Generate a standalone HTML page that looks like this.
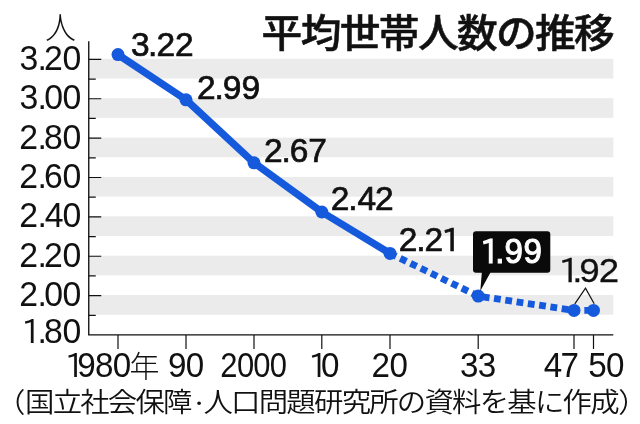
<!DOCTYPE html>
<html lang="ja"><head><meta charset="utf-8"><title>平均世帯人数の推移</title>
<style>
html,body{margin:0;padding:0;background:#fff}
body{width:640px;height:424px;overflow:hidden}
svg{display:block;will-change:transform}
text{font-family:"Liberation Sans","Noto Sans CJK JP",sans-serif;fill:#111}
.jp{font-family:"Noto Sans CJK JP","Liberation Sans",sans-serif}
.n{font-size:34.31px}
.x{font-size:34.40px}
.m{font-size:34px;stroke:#111;stroke-width:.25px}
.d{font-size:33.50px;stroke:#111;stroke-width:.7px}
.c{font-size:34.20px;fill:#fff;stroke:#fff;stroke-width:1.1px}
.o{font-family:"IPAPGothic","IPAGothic","NanumGothic","Liberation Sans",sans-serif}
.n .o{font-size:31.95px} .x .o{font-size:32.03px} .m .o{font-size:31.65px} .d .o{font-size:31.19px} .c .o{font-size:31.84px}
</style></head><body>
<svg width="640" height="424" viewBox="0 0 640 424">
<rect width="640" height="424" fill="#fff"/>
<rect x="88.75" y="58.85" width="524.55" height="19.68" fill="#ebebeb"/>
<rect x="88.75" y="98.22" width="524.55" height="19.68" fill="#ebebeb"/>
<rect x="88.75" y="137.58" width="524.55" height="19.68" fill="#ebebeb"/>
<rect x="88.75" y="176.95" width="524.55" height="19.68" fill="#ebebeb"/>
<rect x="88.75" y="216.31" width="524.55" height="19.68" fill="#ebebeb"/>
<rect x="88.75" y="255.68" width="524.55" height="19.68" fill="#ebebeb"/>
<rect x="88.75" y="295.05" width="524.55" height="19.68" fill="#ebebeb"/>
<path d="M88.75 41.2V334.9H613.3" fill="none" stroke="#111" stroke-width="1.35"/>
<path d="M88.75 59.40h12.5M88.75 79.08h7M88.75 98.77h12.5M88.75 118.45h7M88.75 138.13h12.5M88.75 157.82h7M88.75 177.50h12.5M88.75 197.18h7M88.75 216.86h12.5M88.75 236.55h7M88.75 256.23h12.5M88.75 275.91h7M88.75 295.60h12.5M88.75 315.28h7M118.0 334.9v14M186.0 334.9v14M254.0 334.9v14M321.8 334.9v14M390.0 334.9v14M478.2 334.9v14M574.0 334.9v14M593.5 334.9v14" fill="none" stroke="#111" stroke-width="1.2"/>
<text class="n" transform="scale(0.985 1)" x="19.9 38.0 44.6 63.4" y="70.0">3.20</text>
<text class="n" transform="scale(0.985 1)" x="19.9 38.0 45.0 63.4" y="109.4">3.00</text>
<text class="n" transform="scale(0.985 1)" x="19.5 38.0 44.8 63.4" y="148.7">2.80</text>
<text class="n" transform="scale(0.985 1)" x="19.5 38.0 44.6 63.4" y="188.1">2.60</text>
<text class="n" transform="scale(0.985 1)" x="19.5 38.0 45.5 63.4" y="227.5">2.40</text>
<text class="n" transform="scale(0.985 1)" x="19.5 38.0 44.6 63.4" y="266.8">2.20</text>
<text class="n" transform="scale(0.985 1)" x="19.5 38.0 45.0 63.4" y="306.2">2.00</text>
<text class="n" transform="scale(0.985 1)" x="21.9 38.0 44.8 63.4" y="342.9"><tspan class="o">1</tspan>.80</text>
<text class="jp" x="60.6" y="38.6" font-size="31" font-weight="300" text-anchor="middle">人</text>
<text class="x" transform="scale(0.965 1)" x="67.4 80.1 98.5 116.9" y="377.4"><tspan class="o">1</tspan>980</text>
<text class="jp" x="129.5" y="377.3" font-size="30" font-weight="300">年</text>
<text class="x" transform="scale(0.965 1)" x="174.1 192.4" y="377.4">90</text>
<text class="x" transform="scale(0.9 1)" x="244.8 263.4 281.5 299.7" y="377.4">2000</text>
<text class="x" transform="scale(0.965 1)" x="319.7 332.7" y="377.4"><tspan class="o">1</tspan>0</text>
<text class="x" transform="scale(0.965 1)" x="385.1 403.6" y="377.4">20</text>
<text class="x" transform="scale(0.965 1)" x="476.8 495.1" y="377.4">33</text>
<text class="x" transform="scale(0.965 1)" x="563.6 580.8" y="377.4">47</text>
<text class="x" transform="scale(0.965 1)" x="609.6 627.9" y="377.4">50</text>
<polyline points="118.0,54.6 186.0,99.8 254.0,162.8 321.8,212.0 390.0,253.4" fill="none" stroke="#1559dc" stroke-width="7.3" stroke-linejoin="round"/>
<polyline points="390.0,253.4 478.2,296.1 574.0,310.4 593.5,310.4" fill="none" stroke="#1559dc" stroke-width="6.8" stroke-dasharray="6.8 4.6"/>
<circle cx="118.0" cy="54.6" r="6.5" fill="#1559dc"/>
<circle cx="186.0" cy="99.8" r="6.5" fill="#1559dc"/>
<circle cx="254.0" cy="162.8" r="6.5" fill="#1559dc"/>
<circle cx="321.8" cy="212.0" r="6.5" fill="#1559dc"/>
<circle cx="390.0" cy="253.4" r="6.5" fill="#1559dc"/>
<circle cx="478.2" cy="296.1" r="6.5" fill="#1559dc"/>
<circle cx="574.0" cy="310.4" r="6.5" fill="#1559dc"/>
<circle cx="593.5" cy="310.4" r="6.5" fill="#1559dc"/>
<text class="d" transform="scale(1.0 1)" x="131.0 148.1 156.4 175.0" y="55.5">3.22</text>
<text class="d" transform="scale(1.0 1)" x="196.9 214.4 222.8 241.4" y="99.3">2.99</text>
<text class="d" transform="scale(1.0 1)" x="263.9 281.4 289.7 308.3" y="161.5">2.67</text>
<text class="d" transform="scale(1.0 1)" x="330.7 348.2 357.4 375.1" y="209.6">2.42</text>
<text class="d" transform="scale(1.0 1)" x="398.8 416.3 424.6 441.5" y="251.2">2.2<tspan class="o">1</tspan></text>
<text class="m" transform="scale(1.08 1)" x="517.2 529.8 536.3 554.3" y="281.6"><tspan class="o">1</tspan>.92</text>
<path d="M574.8 303.8L585.5 288.2L594.2 303.8" fill="none" stroke="#111" stroke-width="1.2"/>
<path d="M476 231.2h71.3a3 3 0 0 1 3 3v35.6a3 3 0 0 1-3 3h-57L480.3 291L481.8 272.8h-5.8a3 3 0 0 1-3-3v-35.6a3 3 0 0 1 3-3z" fill="#0a0a0a"/>
<text class="c" transform="scale(0.965 1)" x="497.6 513.2 522.8 542.4" y="263.3"><tspan class="o">1</tspan>.99</text>
<text class="jp" transform="scale(1.038 1)" y="46.6" font-size="39.2" font-weight="500" stroke="#111" stroke-width=".55" x="252.0 289.7 327.3 364.9 402.6 440.2 477.9 515.5 553.1">平均世帯人数の推移</text>
<text class="jp" transform="scale(1.07 1)" font-size="27.5" font-weight="350" x="-3.7 23.4 49.2 75.0 100.8 126.6 152.4 177.5 190.2 216.0 241.8 267.6 293.5 319.3 345.1 370.9 396.7 422.5 448.3 474.1 500.0 525.8 551.6 577.9"><tspan y="411.8">（国立社会保障</tspan><tspan y="409.90000000000003" font-size="17">・</tspan><tspan y="411.8">人口問題研究所の資料を基に作成）</tspan></text>
</svg></body></html>
